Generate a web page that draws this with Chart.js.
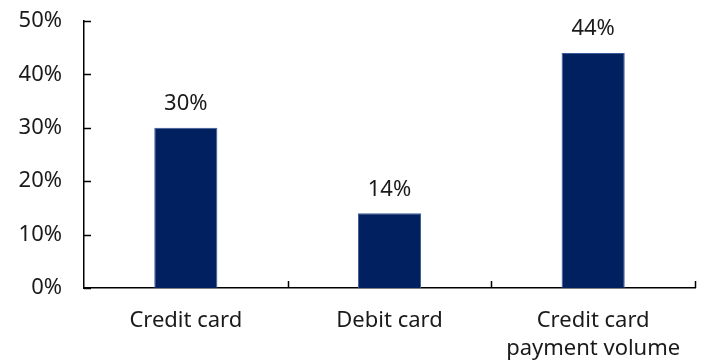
<!DOCTYPE html>
<html>
<head>
<meta charset="utf-8">
<script src="https://cdn.jsdelivr.net/npm/chart.js@4"></script>
<style>
  html, body { margin: 0; padding: 0; background: #fff; }
  #wrap { width: 704px; height: 361px; }
</style>
</head>
<body>
<div id="wrap"><canvas id="chart" width="704" height="361"></canvas></div>
<script>
const categories = ["Credit card", "Debit card", ["Credit card", "payment volume"]];
const shares = [30, 14, 44];
const yTicks = [0, 10, 20, 30, 40, 50];

const FONT = "'Noto Sans', 'Open Sans', sans-serif";
const NAVY = "#002060";
const INK = "#1a1a1a";

// value labels above each bar + short inward tick marks on both axes
const decorations = {
  id: "decorations",
  afterDatasetsDraw(chart) {
    const { ctx } = chart;
    const meta = chart.getDatasetMeta(0);
    ctx.save();
    ctx.fillStyle = INK;
    ctx.font = `22px ${FONT}`;
    ctx.textAlign = "center";
    ctx.textBaseline = "middle";
    meta.data.forEach((bar, i) => {
      ctx.fillText(`${shares[i]}%`, bar.x, bar.y - 24);
    });
    ctx.restore();
  },
  afterDraw(chart) {
    const { ctx, scales } = chart;
    const x = scales.x;
    const y = scales.y;
    ctx.save();
    ctx.strokeStyle = "#000";
    ctx.lineWidth = 1.5;
    ctx.beginPath();
    yTicks.forEach((v) => {
      const py = Math.round(y.getPixelForValue(v)) + 0.5;
      ctx.moveTo(x.left, py);
      ctx.lineTo(x.left + 7, py);
    });
    for (let i = 1; i <= categories.length; i++) {
      const px = Math.round(x.getPixelForValue(i - 0.5)) + 0.5;
      ctx.moveTo(px, y.bottom);
      ctx.lineTo(px, y.bottom - 7);
    }
    ctx.stroke();
    ctx.restore();
  },
};

new Chart(document.getElementById("chart"), {
  type: "bar",
  data: {
    labels: categories,
    datasets: [
      {
        data: shares,
        backgroundColor: NAVY,
        borderColor: "#3a5a9a",
        borderWidth: { left: 1, right: 1, top: 1, bottom: 0 },
        categoryPercentage: 1,
        barPercentage: 0.31,
      },
    ],
  },
  options: {
    responsive: false,
    animation: false,
    layout: { padding: { top: 21, right: 9, left: 0, bottom: 0 } },
    plugins: {
      legend: { display: false },
      tooltip: { enabled: false },
    },
    scales: {
      x: {
        grid: { display: false, drawTicks: false },
        border: { display: true, color: "#000", width: 1.5 },
        ticks: {
          color: INK,
          padding: 19,
          maxRotation: 0,
          font: { family: FONT, size: 22, lineHeight: 1.27 },
        },
        afterFit(scale) {
          scale.height = 73;
          scale.paddingLeft = 0;
          scale.paddingRight = 0;
        },
      },
      y: {
        min: 0,
        max: 50,
        afterBuildTicks(scale) {
          scale.ticks = yTicks.map((v) => ({ value: v }));
        },
        grid: { display: false, drawTicks: false },
        border: { display: true, color: "#000", width: 1.5 },
        ticks: {
          color: INK,
          padding: 22,
          font: { family: FONT, size: 22 },
          callback: (v) => `${v}%`,
        },
        afterFit(scale) {
          scale.width = 84;
          scale.paddingTop = 0;
          scale.paddingBottom = 0;
        },
      },
    },
  },
  plugins: [decorations],
});
</script>
</body>
</html>
